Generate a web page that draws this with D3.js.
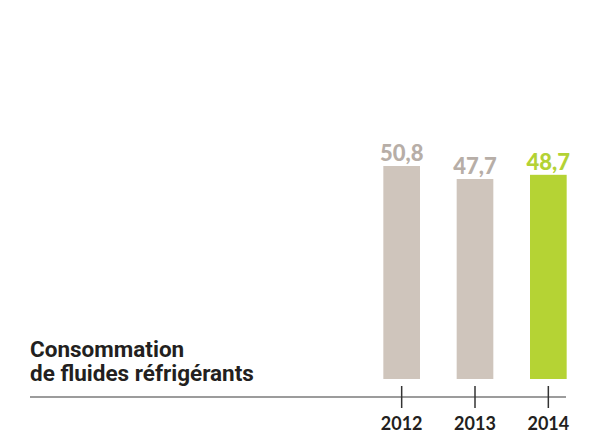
<!DOCTYPE html>
<html>
<head>
<meta charset="utf-8">
<script src="https://cdn.jsdelivr.net/npm/d3@7"></script>
<style>
  body { margin: 0; background: #fff; }
  svg { display: block; }
</style>
</head>
<body>
<svg id="chart" width="600" height="433"></svg>
<script>
  // Data
  let years = ["2012", "2013", "2014"];
  let values = [50.8, 47.7, 48.7];
  let labels = ["50,8", "47,7", "48,7"];
  let colors = ["#cfc5bc", "#cfc5bc", "#b5d334"];
  let labelColors = ["#b7aea7", "#b7aea7", "#b3d235"];
  let titleLines = ["Consommation", "de fluides réfrigérants"];

  let svg = d3.select("#chart");

  // Scales
  let x = d3.scaleBand().domain(years).range([365, 585]).paddingInner(0.5).paddingOuter(0.25);
  let y = d3.scaleLinear().domain([0, 50.8]).range([379, 166]);

  // Bars
  svg.selectAll(".bar")
    .data(values)
    .enter()
    .append("rect")
    .attr("class", "bar")
    .attr("x", (d, i) => x(years[i]))
    .attr("width", x.bandwidth())
    .attr("y", (d) => y(d))
    .attr("height", (d) => y(0) - y(d))
    .style("fill", (d, i) => colors[i]);

  // Value labels
  svg.selectAll(".val")
    .data(values)
    .enter()
    .append("text")
    .attr("x", (d, i) => x(years[i]) + x.bandwidth() / 2)
    .attr("y", (d) => y(d) - 5)
    .attr("text-anchor", "middle")
    .style("font-family", "Lato, sans-serif")
    .style("font-weight", "900")
    .style("font-size", "22px")
    .style("fill", (d, i) => labelColors[i])
    .text((d, i) => labels[i]);

  // Axis line and ticks
  svg.append("line")
    .attr("x1", 30).attr("x2", 566)
    .attr("y1", 397).attr("y2", 397)
    .style("stroke", "#7b7b7b").style("stroke-width", 1.5);

  svg.selectAll(".tick")
    .data(years)
    .enter()
    .append("line")
    .attr("x1", (d) => x(d) + x.bandwidth() / 2)
    .attr("x2", (d) => x(d) + x.bandwidth() / 2)
    .attr("y1", 386).attr("y2", 408)
    .style("stroke", "#333").style("stroke-width", 1.5);

  svg.selectAll(".year")
    .data(years)
    .enter()
    .append("text")
    .attr("x", (d) => x(d) + x.bandwidth() / 2)
    .attr("y", 430)
    .attr("text-anchor", "middle")
    .style("font-family", "Lato, sans-serif")
    .style("font-weight", "bold")
    .style("font-size", "18px")
    .style("fill", "#231f20")
    .text((d) => d);

  // Title
  svg.selectAll(".title")
    .data(titleLines)
    .enter()
    .append("text")
    .attr("x", 30)
    .attr("y", (d, i) => 357 + i * 24)
    .style("font-family", "Roboto, sans-serif")
    .style("font-weight", "bold")
    .style("font-size", "22.5px")
    .style("fill", "#231f20")
    .text((d) => d);
</script>
</body>
</html>
